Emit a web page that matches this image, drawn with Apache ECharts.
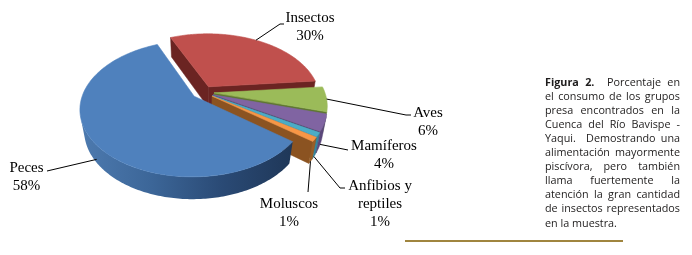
<!DOCTYPE html>
<html><head><meta charset="utf-8">
<script src="https://cdn.jsdelivr.net/npm/echarts@6/dist/echarts.min.js"></script>
<style>html,body{margin:0;padding:0;background:#fff}#c{width:692px;height:255px}</style>
</head><body><div id="c"></div>
<script>
// ---------- data ----------
const categories = ['Peces', 'Insectos', 'Aves', 'Mamíferos', 'Anfibios y reptiles', 'Moluscos'];
const values = [58, 30, 6, 4, 1, 1];
const labelText = [['Peces'], ['Insectos'], ['Aves'], ['Mamíferos'], ['Anfibios y', 'reptiles'], ['Moluscos']];
const captionLines = [
  'Figura 2.  Porcentaje en',
  'el consumo de los grupos',
  'presa encontrados en la',
  'Cuenca del Río Bavispe -',
  'Yaqui.  Demostrando una',
  'alimentación mayormente',
  'piscívora, pero también',
  'llama fuertemente la',
  'atención la gran cantidad',
  'de insectos representados',
  'en la muestra.'
];
const captionBoldWords = [2, 0, 0, 0, 0, 0, 0, 0, 0, 0, 0];

// ---------- styles / layout ----------
const topColors = ['#4F81BD', '#C0504D', '#9BBB59', '#8064A2', '#4BACC6', '#F79646'];
const radialColors = ['#3A6496', '#6B2422', '#5E7631', '#4A3A62', '#2B7388', '#8B5321'];
const outerColors = ['#3C6698', '#7A2B29', '#6F8B3A', '#5A477A', '#36869C', '#9A5E26'];
const pecesWallStops = ['#4D7AAF', '#3C6698', '#2A4A75', '#1F3758'];
const V = { cx: 203, cy: 113.2, k: 482, dist: 4.5, tilt: 38, H: 0.24, explode: 0.1, start: 127.8 };
const labelLayout = [
  { h: 0.2, line: [[47, 171]], x: 26.5, y: 168 },
  { h: 1, line: [[280, 24], [284, 24]], x: 310, y: 18 },
  { h: 1, line: [[406, 115], [411, 115]], x: 428, y: 113 },
  { h: 0, line: [[348, 150]], x: 384, y: 146 },
  { h: 0, line: [[340, 188], [345, 188]], x: 380, y: 186 },
  { h: 0, line: [[308, 192]], x: 289, y: 204 }
];
const LABEL_FONT = '15px "Liberation Serif"';
const LABEL_LH = 18;
const CAP = { left: 545, right: 680, y0: 82.5, lh: 14.1, size: 10.8, family: '"Open Sans"', color: '#1E1C1C' };

const RAD = Math.PI / 180;
const total = values.reduce((a, b) => a + b, 0);
const angles = (() => { let a = V.start; return values.map(v => { const a0 = a; a += v / total * 360; return [a0, a]; }); })();

function proj(X, Y, Z) {
  const s = Math.sin(V.tilt * RAD), c = Math.cos(V.tilt * RAD);
  const depth = V.dist - (Y * s + Z * c);
  return [V.cx + V.k * X / depth, V.cy - V.k * (Y * c - Z * s) / depth, depth];
}

function renderItem(params, api) {
  const i = params.dataIndex;
  const [a0, a1] = angles[i];
  const am = (a0 + a1) / 2 * RAD;
  const ex = V.explode * Math.sin(am), ez = -V.explode * Math.cos(am);
  const P = (deg, r, Y) => proj(r * Math.sin(deg * RAD) + ex, Y, -r * Math.cos(deg * RAD) + ez);
  const arc = (b0, b1, Y) => {
    const n = Math.max(2, Math.ceil(Math.abs(b1 - b0)));
    const out = [];
    for (let j = 0; j <= n; j++) { const p = P(b0 + (b1 - b0) * j / n, 1, Y); out.push([p[0], p[1]]); }
    return out;
  };
  const children = [];
  // top face
  const apexT = P(0, 0, V.H);
  children.push({
    type: 'polygon', z2: 1000,
    shape: { points: [[apexT[0], apexT[1]]].concat(arc(a0, a1, V.H)) },
    style: { fill: topColors[i], stroke: topColors[i], lineWidth: 0.6 }
  });
  const s = Math.sin(V.tilt * RAD), c = Math.cos(V.tilt * RAD);
  const cam = [0, V.dist * s, V.dist * c];
  // radial faces
  [[a0, -1], [a1, 1]].forEach(([deg, sg]) => {
    const t = deg * RAD;
    const n = [sg * Math.cos(t), 0, sg * Math.sin(t)];
    const pc = [0.5 * Math.sin(t) + ex, V.H / 2, -0.5 * Math.cos(t) + ez];
    const dot = n[0] * (cam[0] - pc[0]) + n[2] * (cam[2] - pc[2]);
    if (dot <= 0) return;
    const q = [P(deg, 0, V.H), P(deg, 1, V.H), P(deg, 1, 0), P(deg, 0, 0)];
    const dep = (q[0][2] + q[1][2] + q[2][2] + q[3][2]) / 4;
    children.push({
      type: 'polygon', z2: 500 - dep * 50,
      shape: { points: q.map(p => [p[0], p[1]]) },
      style: { fill: radialColors[i], stroke: radialColors[i], lineWidth: 0.5 }
    });
  });
  // outer wall
  const vis = deg => { const t = deg * RAD; return -1 - ex * Math.sin(t) + ez * Math.cos(t) - V.dist * c * Math.cos(t) > 0; };
  const ranges = [];
  let cur = null;
  const step = 0.25;
  for (let d = a0; d <= a1 + 1e-9; d += step) {
    const dd = Math.min(d, a1);
    if (vis(dd)) { if (!cur) { cur = [dd, dd]; ranges.push(cur); } else cur[1] = dd; }
    else cur = null;
  }
  ranges.forEach(([b0, b1]) => {
    if (b1 - b0 < 0.2) return;
    const pts = arc(b0, b1, V.H).concat(arc(b1, b0, 0));
    const dep = P((b0 + b1) / 2, 1, V.H / 2)[2];
    let fill = outerColors[i];
    if (i === 0) {
      fill = new echarts.graphic.LinearGradient(0, 0, 1, 0, pecesWallStops.map((col, j) => ({ offset: j / (pecesWallStops.length - 1), color: col })));
    }
    children.push({ type: 'polygon', z2: 500 - dep * 50, shape: { points: pts }, style: { fill: fill, stroke: i === 0 ? null : outerColors[i], lineWidth: 0.5 } });
  });
  // label + leader
  const L = labelLayout[i];
  const st = P((a0 + a1) / 2, 1, V.H * L.h);
  children.push({
    type: 'polyline', z2: 1500,
    shape: { points: [[st[0], st[1]]].concat(L.line) },
    style: { stroke: '#000', lineWidth: 1, fill: null }
  });
  const lines = labelText[i].concat([Math.round(values[i] / total * 100) + '%']);
  lines.forEach((t, j) => children.push({
    type: 'text', z2: 2000, x: L.x, y: L.y + j * LABEL_LH,
    style: { text: t, font: LABEL_FONT, fill: '#000', align: 'center', verticalAlign: 'middle' }
  }));
  return { type: 'group', children: children };
}

// ---------- caption (justified) ----------
const mctx = document.createElement('canvas').getContext('2d');
const fontOf = b => (b ? '700 ' : '400 ') + CAP.size + 'px ' + CAP.family;
function measure(t, b) { mctx.font = fontOf(b); return mctx.measureText(t).width; }
const graphics = [];
captionLines.forEach((line, li) => {
  const parts = line.split(' ');
  const words = []; const gaps = [];
  let pending = 0;
  parts.forEach(p => {
    if (p === '') { pending++; return; }
    if (words.length) gaps.push(1 + pending);
    pending = 0;
    words.push(p);
  });
  const bold = words.map((w, j) => j < captionBoldWords[li]);
  const widths = words.map((w, j) => measure(w, bold[j]));
  const spaceW = measure(' ', false);
  const natural = widths.reduce((a, b) => a + b, 0);
  const gw = gaps.reduce((a, b) => a + b, 0);
  const last = li === captionLines.length - 1;
  let unit = (!last && gw > 0) ? (CAP.right - CAP.left - natural) / gw : spaceW;
  unit = Math.max(unit, spaceW * 0.6);
  let x = CAP.left;
  const y = CAP.y0 + li * CAP.lh;
  words.forEach((w, j) => {
    graphics.push({ type: 'text', x: x, y: y, style: { text: w, font: fontOf(bold[j]), fill: CAP.color, align: 'left', verticalAlign: 'middle' } });
    x += widths[j] + (j < gaps.length ? gaps[j] * unit : 0);
  });
});
graphics.push({ type: 'line', shape: { x1: 405, y1: 241, x2: 623, y2: 241 }, style: { stroke: '#A0853F', lineWidth: 2 } });

const chart = echarts.init(document.getElementById('c'), null, { renderer: 'canvas' });
chart.setOption({
  backgroundColor: '#fff',
  animation: false,
  graphic: graphics,
  series: [{
    type: 'custom',
    coordinateSystem: 'none',
    silent: true,
    renderItem: renderItem,
    data: values.map((v, i) => ({ name: categories[i], value: [i, v] }))
  }]
});
</script></body></html>
